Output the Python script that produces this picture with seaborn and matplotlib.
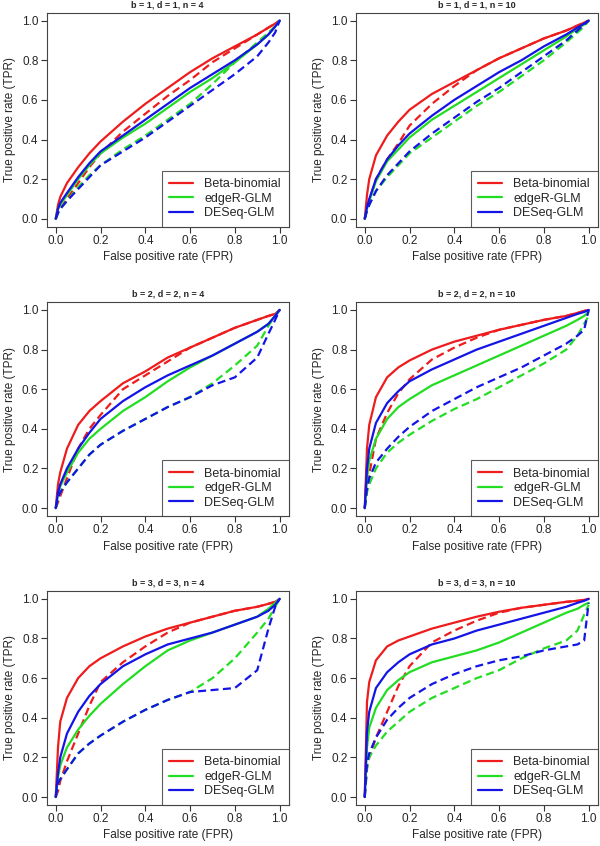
import numpy as np
import pandas as pd
import matplotlib
matplotlib.use("Agg")
import matplotlib.pyplot as plt
from matplotlib.lines import Line2D
import seaborn as sns

# Shared FPR grid for all ROC curves
fpr = [0, .01, .02, .05, .1, .15, .2, .3, .4, .5, .6, .7, .8, .9, .95, .98, 1.0]

methods = ["Beta-binomial", "edgeR-GLM", "DESeq-GLM"]
colors = {"Beta-binomial": "#ee1c1c", "edgeR-GLM": "#22dd22", "DESeq-GLM": "#1414e6"}

titles = ["b = 1, d = 1, n = 4", "b = 1, d = 1, n = 10",
          "b = 2, d = 2, n = 4", "b = 2, d = 2, n = 10",
          "b = 3, d = 3, n = 4", "b = 3, d = 3, n = 10"]

# TPR values: (solid, dashed) per method, per panel
p1_bb = [0, .07, .11, .18, .26, .33, .39, .49, .58, .66, .74, .81, .87, .93, .965, .985, 1.0]
p1_bb_d = [0, .03, .05, .10, .18, .26, .33, .44, .53, .62, .70, .79, .86, .93, .965, .985, 1.0]
p1_er = [0, .05, .07, .12, .20, .27, .33, .41, .48, .56, .64, .71, .79, .88, .93, .97, 1.0]
p1_er_d = [0, .03, .05, .09, .16, .22, .27, .35, .42, .50, .58, .68, .79, .89, .94, .97, 1.0]
p1_de = [0, .05, .08, .13, .21, .28, .34, .42, .50, .58, .66, .73, .80, .88, .93, .97, 1.0]
p1_de_d = [0, .03, .05, .09, .15, .21, .27, .34, .41, .49, .57, .65, .73, .82, .89, .94, 1.0]

p2_bb = [0, .12, .20, .32, .42, .49, .55, .63, .69, .75, .81, .86, .91, .95, .975, .99, 1.0]
p2_bb_d = [0, .05, .09, .20, .30, .38, .47, .58, .67, .75, .81, .86, .91, .95, .975, .99, 1.0]
p2_er = [0, .05, .09, .19, .29, .35, .41, .50, .57, .64, .71, .78, .85, .92, .96, .98, 1.0]
p2_er_d = [0, .04, .07, .14, .21, .27, .33, .41, .49, .57, .64, .72, .80, .89, .94, .97, 1.0]
p2_de = [0, .06, .10, .20, .30, .37, .43, .52, .60, .67, .74, .80, .87, .93, .965, .985, 1.0]
p2_de_d = [0, .04, .07, .14, .22, .28, .34, .43, .51, .59, .66, .74, .82, .90, .95, .98, 1.0]

p3_bb = [0, .12, .18, .30, .42, .49, .54, .63, .69, .76, .81, .86, .91, .95, .97, .98, 1.0]
p3_bb_d = [0, .03, .06, .15, .30, .40, .47, .60, .67, .74, .81, .86, .91, .95, .97, .98, 1.0]
p3_er = [0, .07, .11, .18, .28, .35, .40, .49, .56, .64, .71, .77, .83, .89, .93, .97, 1.0]
p3_er_d = [0, .05, .08, .13, .20, .27, .32, .39, .45, .51, .56, .63, .72, .82, .92, .97, 1.0]
p3_de = [0, .08, .12, .20, .30, .38, .45, .54, .61, .67, .72, .77, .83, .89, .93, .97, 1.0]
p3_de_d = [0, .05, .08, .13, .20, .27, .32, .39, .45, .51, .56, .62, .66, .76, .88, .95, 1.0]

p4_bb = [0, .30, .42, .56, .66, .71, .745, .80, .84, .87, .90, .925, .95, .97, .985, .995, 1.0]
p4_bb_d = [0, .10, .17, .35, .48, .58, .65, .75, .81, .86, .90, .925, .95, .97, .985, .995, 1.0]
p4_er = [0, .15, .24, .35, .45, .51, .55, .62, .67, .72, .77, .82, .87, .92, .95, .97, .99]
p4_er_d = [0, .08, .12, .20, .28, .33, .37, .44, .50, .55, .61, .67, .73, .80, .87, .93, .97]
p4_de = [0, .20, .30, .43, .53, .59, .64, .70, .75, .80, .84, .88, .92, .96, .98, .99, 1.0]
p4_de_d = [0, .10, .15, .23, .30, .36, .41, .49, .55, .61, .66, .71, .77, .83, .87, .90, 1.0]

p5_bb = [0, .25, .38, .50, .60, .66, .70, .76, .81, .85, .88, .91, .94, .96, .975, .985, 1.0]
p5_bb_d = [0, .03, .08, .18, .32, .46, .58, .68, .76, .83, .88, .91, .94, .96, .975, .985, 1.0]
p5_er = [0, .10, .16, .25, .34, .41, .47, .57, .66, .74, .79, .83, .87, .91, .95, .98, 1.0]
p5_er_d = [0, .07, .09, .14, .22, .27, .31, .38, .44, .49, .53, .60, .70, .83, .90, .96, 1.0]
p5_de = [0, .12, .20, .32, .43, .51, .57, .66, .72, .77, .80, .83, .87, .91, .94, .97, 1.0]
p5_de_d = [0, .07, .09, .14, .22, .27, .31, .38, .44, .49, .53, .54, .55, .64, .85, .96, 1.0]

p6_bb = [0, .48, .58, .69, .76, .79, .81, .85, .88, .91, .935, .955, .97, .985, .99, .995, 1.0]
p6_bb_d = [0, .15, .20, .30, .43, .56, .66, .78, .84, .89, .93, .955, .97, .985, .99, .995, 1.0]
p6_er = [0, .25, .35, .45, .54, .59, .63, .68, .71, .74, .78, .83, .88, .93, .95, .97, .98]
p6_er_d = [0, .14, .20, .26, .33, .38, .43, .50, .55, .60, .64, .70, .75, .79, .84, .92, .97]
p6_de = [0, .33, .43, .55, .63, .68, .72, .77, .80, .84, .87, .90, .93, .96, .98, .99, 1.0]
p6_de_d = [0, .17, .22, .30, .39, .45, .50, .57, .62, .66, .69, .71, .74, .76, .77, .79, .98]

panels = [
    [p1_bb, p1_bb_d, p1_er, p1_er_d, p1_de, p1_de_d],
    [p2_bb, p2_bb_d, p2_er, p2_er_d, p2_de, p2_de_d],
    [p3_bb, p3_bb_d, p3_er, p3_er_d, p3_de, p3_de_d],
    [p4_bb, p4_bb_d, p4_er, p4_er_d, p4_de, p4_de_d],
    [p5_bb, p5_bb_d, p5_er, p5_er_d, p5_de, p5_de_d],
    [p6_bb, p6_bb_d, p6_er, p6_er_d, p6_de, p6_de_d],
]

sns.set_style("white")
plt.rcParams["font.family"] = ["Liberation Sans", "DejaVu Sans"]

fig = plt.figure(figsize=(6, 8.46), dpi=100)

# axes positions in figure fractions (left, bottom, width, height)
lefts = [0.078, 0.593]
bottoms = [0.732, 0.390, 0.0485]
width, height = 0.403, 0.253

for i, curves in enumerate(panels):
    rows = []
    for j, tpr in enumerate(curves):
        method = methods[j // 2]
        kind = "solid" if j % 2 == 0 else "dashed"
        for x, y in zip(fpr, tpr):
            rows.append({"fpr": x, "tpr": y, "method": method, "kind": kind, "curve": j})
    df = pd.DataFrame(rows)
    # draw dashed first so solid lines sit on top
    df = df.sort_values("curve", key=lambda c: c % 2, ascending=False, kind="stable")

    ax = fig.add_axes([lefts[i % 2], bottoms[i // 2], width, height])
    sns.lineplot(data=df, x="fpr", y="tpr", hue="method", style="kind",
                 units="curve", estimator=None, sort=False,
                 palette=colors, dashes={"solid": "", "dashed": (3.6, 2)},
                 linewidth=1.6, legend=False, ax=ax)

    ax.set_xlim(-0.04, 1.04)
    ax.set_ylim(-0.04, 1.04)
    ticks = [0, 0.2, 0.4, 0.6, 0.8, 1.0]
    ax.set_xticks(ticks)
    ax.set_yticks(ticks)
    ax.set_xticklabels([f"{t:.1f}" for t in ticks], fontsize=8.5)
    ax.set_yticklabels([f"{t:.1f}" for t in ticks], fontsize=8.5)
    ax.tick_params(direction="out", length=4, width=0.8, color="#333333",
                   bottom=True, left=True, pad=2)
    for s in ax.spines.values():
        s.set_color("#444444")
        s.set_linewidth(0.8)
    ax.set_xlabel("False positive rate (FPR)", fontsize=8.5, labelpad=3)
    ax.set_ylabel("True positive rate (TPR)", fontsize=8.5, labelpad=4)
    ax.set_title(titles[i], fontsize=6.5, fontweight="bold", pad=4)

    handles = [Line2D([0], [0], color=colors[m], lw=1.6) for m in methods]
    leg = ax.legend(handles, methods, loc="lower right", fontsize=9,
                    frameon=True, fancybox=False, borderaxespad=0,
                    handlelength=1.9, handletextpad=0.9, labelspacing=0.2,
                    borderpad=0.6)
    leg.get_frame().set_edgecolor("#333333")
    leg.get_frame().set_linewidth(0.8)

fig.savefig("out.png", dpi=100)
